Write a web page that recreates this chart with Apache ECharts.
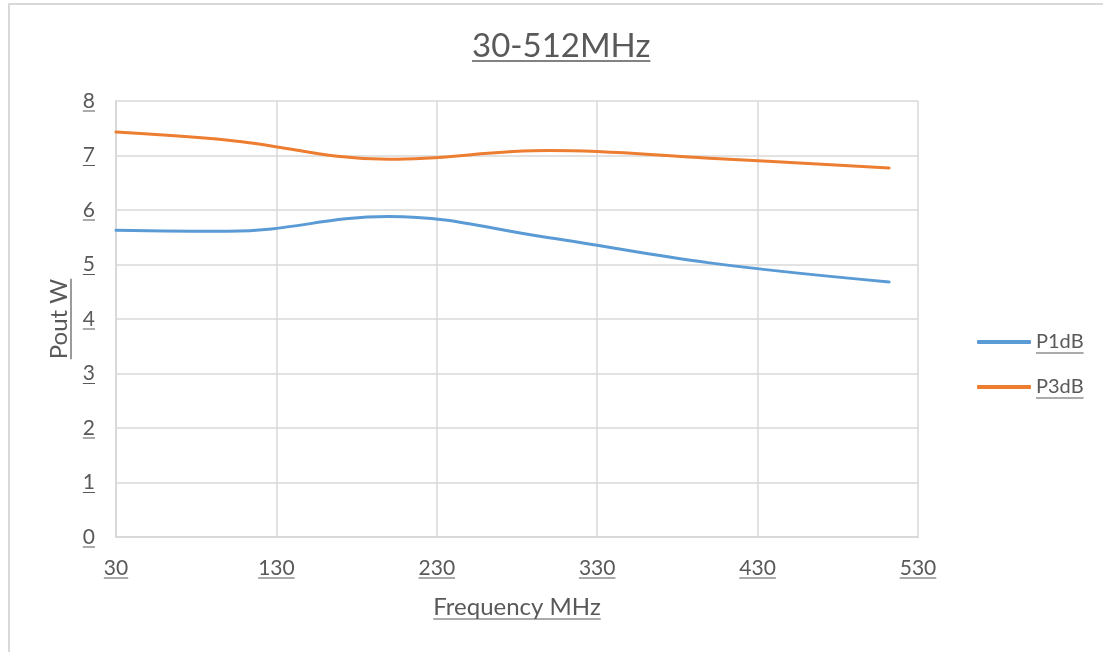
<!DOCTYPE html>
<html><head><meta charset="utf-8">
<script src="https://cdn.jsdelivr.net/npm/echarts@6/dist/echarts.min.js"></script>
<style>
html,body{margin:0;padding:0;background:#fff;}
#frame{position:absolute;left:8px;top:3px;width:1120px;height:700px;border-left:2px solid #d9d9d9;border-top:2px solid #d9d9d9;}
#main{position:absolute;left:0;top:0;width:1103px;height:652px;}
</style></head>
<body>
<div id="frame"></div>
<div id="main"></div>
<script>
const titleText = '30-512MHz';
const xName = 'Frequency MHz';
const yName = 'Pout W';
const seriesNames = ['P1dB', 'P3dB'];
const freqs = [30, 100, 200, 300, 400, 512];
const p1dB = [5.63, 5.61, 5.88, 5.49, 5.03, 4.68];
const p3dB = [7.43, 7.28, 6.93, 7.09, 6.95, 6.77];
const xTicks = [30, 130, 230, 330, 430, 530];
const yTicks = [0, 1, 2, 3, 4, 5, 6, 7, 8];

const FONT = 'Lato, "Open Sans", sans-serif';
const TXT = '#595959';
const GRID = '#d9d9d9';
const colors = ['#5b9bd5', '#ed7d31'];

function rich(fs, lh, bw) {
  return {
    t: {fontFamily: FONT, fontSize: fs, fontWeight: 'normal', lineHeight: lh, color: TXT},
    hr: {width: '100%', height: 0, align: 'left', borderColor: TXT, borderWidth: bw}
  };
}
const ulFmt = v => '{t|' + v + '}\n{hr|}';

const chart = echarts.init(document.getElementById('main'), null, {renderer: 'canvas'});
const tickFs = 21, legFs = 20, nameFs = 24, titleFs = 33;
const option = {
  animation: false,
  color: colors,
  textStyle: {fontFamily: FONT},
  title: {text: ulFmt(titleText), left: 472, top: 31, padding: 0,
    textStyle: {fontFamily: FONT, fontSize: titleFs, fontWeight: 'normal', color: TXT, rich: rich(titleFs, 30, 1.4)}},
  grid: {left: 116, right: 185, top: 101, bottom: 115},
  legend: {orient: 'vertical', left: 977, top: 332, padding: 0, itemWidth: 54, itemHeight: 4, itemGap: 14, icon: 'roundRect',
    formatter: ulFmt,
    textStyle: {fontFamily: FONT, fontSize: legFs, color: TXT, rich: rich(legFs, 22, 1.1)}, data: seriesNames},
  xAxis: {type: 'value', min: xTicks[0], max: xTicks[xTicks.length - 1], interval: xTicks[1] - xTicks[0],
    name: ulFmt(xName), nameLocation: 'middle', nameGap: 58,
    nameTextStyle: {fontFamily: FONT, fontSize: nameFs, color: TXT, rich: rich(nameFs, 24, 1.2)},
    axisLine: {show: true, lineStyle: {color: GRID, width: 2}}, axisTick: {show: false},
    axisLabel: {formatter: ulFmt, margin: 21, rich: rich(tickFs, 20, 1.1)},
    splitLine: {show: true, lineStyle: {color: GRID, width: 1.5}}},
  yAxis: {type: 'value', min: yTicks[0], max: yTicks[yTicks.length - 1], interval: 1,
    name: ulFmt(yName), nameLocation: 'middle', nameGap: 45, nameRotate: 90, nameMoveOverlap: false,
    nameTextStyle: {fontFamily: FONT, fontSize: nameFs, color: TXT, rich: rich(nameFs, 24, 1.2)},
    axisLine: {show: true, lineStyle: {color: GRID, width: 2}}, axisTick: {show: false},
    axisLabel: {formatter: ulFmt, margin: 21, rich: rich(tickFs, 20, 1.1)},
    splitLine: {show: true, lineStyle: {color: GRID, width: 1.5}}},
  series: [
    {name: seriesNames[0], type: 'line', smooth: 0.4, showSymbol: false, symbol: 'none',
     lineStyle: {width: 3, color: colors[0], cap: 'round'}, data: freqs.map((f, i) => [f, p1dB[i]])},
    {name: seriesNames[1], type: 'line', smooth: 0.4, showSymbol: false, symbol: 'none',
     lineStyle: {width: 3, color: colors[1], cap: 'round'}, data: freqs.map((f, i) => [f, p3dB[i]])}
  ]
};
chart.setOption(option);
</script>
</body></html>
